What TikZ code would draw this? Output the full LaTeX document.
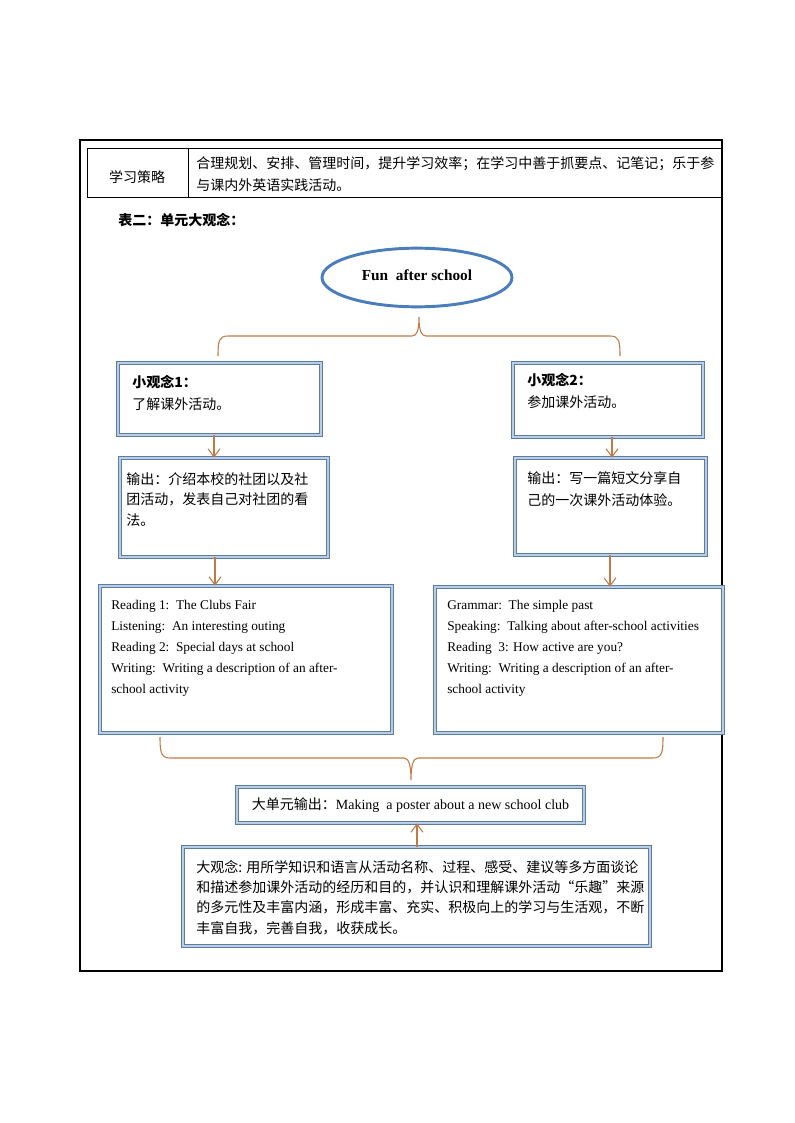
\documentclass[tikz,border=0pt]{standalone}
\usepackage{fontspec}
\setmainfont{Liberation Serif}
\newfontfamily\cjk{Noto Sans CJK SC}
\usetikzlibrary{arrows.meta,shapes.geometric,fit,calc}
\definecolor{bline}{HTML}{5B7BA3}
\definecolor{bfill}{HTML}{B9CDE5}
\definecolor{brn}{HTML}{C07A45}
\definecolor{ell}{HTML}{4A7EBB}
\begin{document}
\begin{tikzpicture}[x=0.75pt,y=-0.75pt,
  box/.style={draw=bline,double=bfill,double distance=1.4pt,line width=0.5pt,inner sep=0pt,rectangle},
  cjktxt/.style={anchor=north west,inner sep=0pt,align=left,font=\cjk\fontsize{10.5}{#1}\selectfont},
  entxt/.style={anchor=north west,inner sep=0pt,align=left,font=\fontsize{10}{15.75}\selectfont},
  brace/.style={draw=brn,line width=0.8pt},
  arr/.style={draw=brn,line width=0.8pt,-{Straight Barb[length=6pt,width=9pt]}},
  frame/.style={draw=black,line width=0.9pt}]
\useasboundingbox (0,0) rectangle (794,1123);
% outer frame and table
\draw[frame] (80,140) rectangle (722,971);
\draw[draw=black,line width=0.7pt] (87,148) rectangle (722,197);
\draw[draw=black,line width=0.7pt] (188,148) -- (188,197);
\node[inner sep=0pt,font=\cjk\fontsize{10.5}{16.5}\selectfont] (lbl) at (137,177) {学习策略};
\node[cjktxt=16.5] (strat) at (196,156) {合理规划、安排、管理时间，提升学习效率；在学习中善于抓要点、记笔记；乐于参\\与课内外英语实践活动。};
\node[anchor=west,inner sep=0pt,font=\cjk\bfseries\fontsize{10.5}{16.5}\selectfont] (hdr) at (118,220) {表二：单元大观念：};
% ellipse
\node[ellipse,draw=ell,line width=2.2pt,minimum width=142.5pt,minimum height=44pt,font=\bfseries\fontsize{11.5}{14}\selectfont] (top) at (417,277.5) {\raisebox{3pt}{Fun\ \ after school}};
% top brace
\coordinate (tbL) at (218,356);
\coordinate (tbT) at (419,317);
\coordinate (tbR) at (620,356);
\draw[brace] (tbL) .. controls (218,341) and (219,336) .. (228,336) -- (412,336) .. controls (417,336) and (419,330) .. (tbT) .. controls (419,330) and (421,336) .. (426,336) -- (610,336) .. controls (619,336) and (620,341) .. (tbR);
% boxes
\node[box,fit={(118,363) (321,435)}] (b1) {};
\node[cjktxt=16.5] (t1) at (132,375) {{\bfseries 小观念1：}\\了解课外活动。};
\node[box,fit={(120,458) (328,557)}] (b2) {};
\node[cjktxt=15.4] (t2) at (126,472) {输出：介绍本校的社团以及社\\团活动，发表自己对社团的看\\法。};
\node[box,fit={(513,363) (703,437)}] (b3) {};
\node[cjktxt=16.5] (t3) at (527,373) {{\bfseries 小观念2：}\\参加课外活动。};
\node[box,fit={(515,458) (706,555)}] (b4) {};
\node[cjktxt=16.5] (t4) at (527,471) {输出：写一篇短文分享自\\己的一次课外活动体验。};
\node[box,fit={(100,586) (392,733)}] (b5) {};
\node[entxt] (t5) at (111,600) {Reading 1:\ \ The Clubs Fair\\Listening:\ \ An interesting outing\\Reading 2:\ \ Special days at school\\Writing:\ \ Writing a description of an after-\\school activity};
\node[box,fit={(435,587) (723,733)}] (b6) {};
\node[entxt] (t6) at (447,600) {Grammar:\ \ The simple past\\Speaking:\ \ Talking about after-school activities\\Reading\ \ 3: How active are you?\\Writing:\ \ Writing a description of an after-\\school activity};
% bottom brace
\coordinate (bbL) at (160,737);
\coordinate (bbB) at (411,780);
\coordinate (bbR) at (663,737);
\draw[brace] (bbL) .. controls (160,752) and (161,758) .. (170,758) -- (404,758) .. controls (409,758) and (411,766) .. (bbB) .. controls (411,766) and (413,758) .. (418,758) -- (653,758) .. controls (662,758) and (663,752) .. (bbR);
\node[box,fit={(237,787) (584,823)}] (b7) {};
\node[inner sep=0pt,font=\fontsize{10.5}{14}\selectfont] (t7) at (b7.center) {{\cjk 大单元输出：}Making\ \ a poster about a new school club};
\node[box,fit={(183,847) (650,946)}] (b8) {};
\node[cjktxt=15.25] (t8) at (196,860) {大观念: 用所学知识和语言从活动名称、过程、感受、建议等多方面谈论\\和描述参加课外活动的经历和目的，并认识和理解课外活动“乐趣”来源\\的多元性及丰富内涵，形成丰富、充实、积极向上的学习与生活观，不断\\丰富自我，完善自我，收获成长。};
% arrows
\coordinate (x1) at (214,0);
\coordinate (x2) at (612,0);
\coordinate (x3) at (215,0);
\coordinate (x4) at (610,0);
\coordinate (x5) at (417,0);
\draw[arr] (x1 |- b1.south) -- (x1 |- b2.north);
\draw[arr] (x2 |- b3.south) -- (x2 |- b4.north);
\draw[arr] (x3 |- b2.south) -- (x3 |- b5.north);
\draw[arr] (x4 |- b4.south) -- (x4 |- b6.north);
\draw[arr] (x5 |- b8.north) -- (x5 |- b7.south);
\end{tikzpicture}
\end{document}
